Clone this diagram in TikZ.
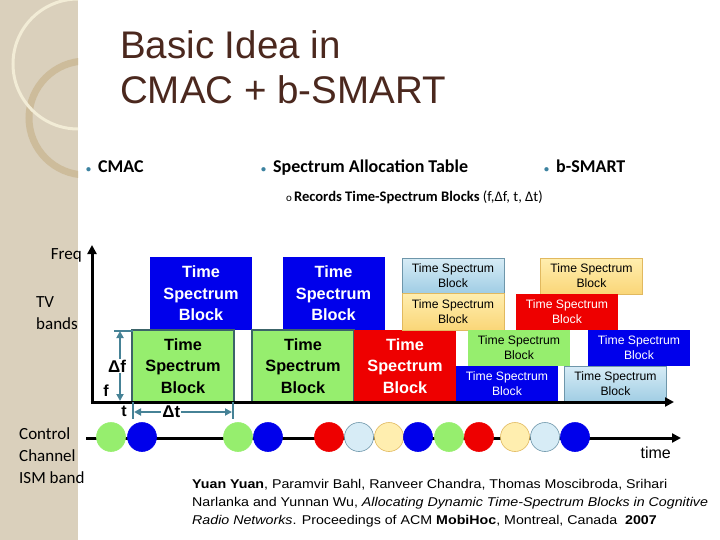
\documentclass[tikz,border=0pt]{standalone}
\usepackage{fontspec}
\setmainfont{Liberation Sans}
\newfontfamily\calfont{Carlito}
\newfontfamily\citefont[FakeStretch=1.12]{Liberation Sans}
\usetikzlibrary{arrows.meta}
\definecolor{tsblue}{RGB}{0,0,235}
\definecolor{tsred}{RGB}{238,0,0}
\definecolor{tsgreen}{RGB}{150,238,110}
\definecolor{lbtop}{RGB}{215,236,246}
\definecolor{lbbot}{RGB}{160,205,228}
\definecolor{lbedge}{RGB}{110,150,170}
\definecolor{yltop}{RGB}{255,238,175}
\definecolor{ylbot}{RGB}{250,214,120}
\definecolor{yledge}{RGB}{225,185,95}
\definecolor{grnedge}{RGB}{60,100,105}
\definecolor{titlebrown}{RGB}{75,40,30}
\definecolor{dimteal}{RGB}{70,130,150}
\definecolor{bulletc}{RGB}{60,130,160}
\definecolor{beige}{RGB}{218,208,188}
\definecolor{cream}{RGB}{242,236,214}
\definecolor{tanring}{RGB}{205,188,155}
\begin{document}
\begin{tikzpicture}[x=1pt, y=-1pt,
  bigblk/.style={minimum width=102pt, minimum height=72pt, inner sep=0pt, align=center,
    font=\fontsize{16.3}{21.5}\selectfont\bfseries},
  smallblk/.style={minimum width=102pt, minimum height=36pt, inner sep=0pt, align=center,
    font=\fontsize{12.2}{15}\selectfont},
  lbfill/.style={top color=lbtop, bottom color=lbbot, draw=lbedge, line width=0.8pt},
  ylfill/.style={top color=yltop, bottom color=ylbot, draw=yledge, line width=0.8pt},
  axis/.style={line width=3pt, -{Triangle[length=9pt,width=9pt]}},
  dim/.style={dimteal, line width=2.6pt},
  dimlab/.style={fill=white, inner sep=1pt, text=black, font=\bfseries\fontsize{17}{17}\selectfont},
  dot/.style={circle, minimum size=29pt, inner sep=0pt},
  label/.style={font=\calfont\fontsize{17}{22}\selectfont, align=left}]
  \useasboundingbox (0,0) rectangle (720,540);
  % Side band
  \fill[beige] (0,0) rectangle (78,540);
  \begin{scope}
    \clip (0,0) rectangle (78,540);
    \draw[tanring, line width=7pt] (86,118) circle (57);
    \draw[cream, line width=3pt] (78,64) circle (65);
  \end{scope}

  % Title and bullets
  \node[anchor=base west, inner sep=0pt, text=titlebrown, font=\fontsize{38.5}{45}\selectfont]
    (title1) at (120,59) {Basic Idea in};
  \node[anchor=base west, inner sep=0pt, text=titlebrown, font=\fontsize{38.5}{45}\selectfont]
    (title2) at (120,104) {CMAC + b-SMART};
  \foreach \bx/\btext/\bname in {86/CMAC/bcmac, 261/Spectrum Allocation Table/bsat, 544/b-SMART/bsmart}
    \node[anchor=base west, inner sep=0pt, font=\calfont\bfseries\fontsize{18}{20}\selectfont]
      (\bname) at (\bx,173) {{\color{bulletc}\fontsize{10}{10}\selectfont\textbullet}\hspace{7pt}\btext};
  \node[anchor=base west, inner sep=0pt, font=\calfont\fontsize{14.6}{16}\selectfont]
    (records) at (286,202) {{\fontsize{11}{11}\selectfont o}\hspace{2pt}\textbf{Records Time-Spectrum Blocks} (f,Δf, t, Δt)};

  % Big blocks
  \node[bigblk, fill=tsblue, text=white, minimum height=73pt] (b1) at (201,293.5) {Time\\Spectrum\\Block};
  \node[bigblk, fill=tsblue, text=white, minimum height=73pt] (b2) at (333.5,293.5) {Time\\Spectrum\\Block};
  \node[bigblk, fill=tsgreen, draw=grnedge, line width=1.2pt] (g1) at (183,366) {Time\\Spectrum\\Block};
  \node[bigblk, fill=tsgreen, draw=grnedge, line width=1.2pt] (g2) at (303,366) {Time\\Spectrum\\Block};
  \node[bigblk, fill=tsred, text=white] (r1) at (405,366) {Time\\Spectrum\\Block};

  % Small blocks
  \node[smallblk, lbfill, minimum height=35pt] (s1) at (453,275.5) {Time Spectrum\\Block};
  \node[smallblk, ylfill, minimum height=37pt] (s2) at (453,311.5) {Time Spectrum\\Block};
  \node[smallblk, ylfill] (s3) at (591.5,276) {Time Spectrum\\Block};
  \node[smallblk, fill=tsred, text=white] (s4) at (567,312) {Time Spectrum\\Block};
  \node[smallblk, fill=tsgreen] (s5) at (519,348) {Time Spectrum\\Block};
  \node[smallblk, fill=tsblue, text=white] (s6) at (639,348) {Time Spectrum\\Block};
  \node[smallblk, fill=tsblue, text=white] (s7) at (507,384) {Time Spectrum\\Block};
  \node[smallblk, lbfill] (s8) at (615.5,384) {Time Spectrum\\Block};

  % Axes
  \coordinate (O) at (92,402);
  \coordinate (freqtip) at (92,245);
  \coordinate (timetip) at (674,402);
  \draw[axis] ([yshift=-1.5pt]O) -- (freqtip);
  \draw[axis] ([xshift=-1.5pt]O) -- (timetip);
  \node[label, anchor=base east, inner sep=0pt] (freq) at (82,259) {Freq};
  \node[label, anchor=west, inner sep=0pt] (tv) at (36,313) {TV\\bands};

  % f, delta f
  \coordinate (dftop) at (120,331);
  \coordinate (dfbot) at (120,401);
  \draw[dim] (114,331) -- (133,331);
  \draw[dim, {Triangle[length=7pt,width=7pt]}-{Triangle[length=7pt,width=7pt]}] (dftop)
    -- node[dimlab, xshift=-3pt] (df) {Δf} (dfbot);
  \node[anchor=base, inner sep=0pt, font=\bfseries\fontsize{16}{16}\selectfont] (flab) at (106,396) {f};

  % t, delta t
  \coordinate (dtl) at (134,412);
  \coordinate (dtr) at (232,412);
  \draw[dim] (133,402) -- (133,419);
  \draw[dim] (233,402) -- (233,419);
  \draw[dim, {Triangle[length=7pt,width=7pt]}-{Triangle[length=7pt,width=7pt]}] (dtl)
    -- node[dimlab, pos=0.38] (dt) {Δt} (dtr);
  \node[anchor=base, inner sep=0pt, font=\bfseries\fontsize{16}{16}\selectfont] (tlab) at (124,416) {t};

  % Control channel
  \coordinate (cstart) at (86,438);
  \coordinate (ctip) at (681,438);
  \draw[axis] (cstart) -- (ctip);
  \foreach \cx/\cfill/\cdraw [count=\i] in {111/tsgreen/tsgreen, 142/tsblue/tsblue, 238/tsgreen/tsgreen,
      268/tsblue/tsblue, 329/tsred/tsred, 359/lbtop/lbedge, 389/yltop/yledge, 418/tsblue/tsblue,
      449/tsgreen/tsgreen, 479/tsred/tsred, 515/yltop/yledge, 545/lbtop/lbedge, 575/tsblue/tsblue}
    \node[dot, fill=\cfill, draw=\cdraw, line width=0.6pt] (ch\i) at (\cx,437) {};
  \node[anchor=base east, inner sep=0pt, font=\fontsize{16}{16}\selectfont] (time) at (671,458) {time};
  \node[label, anchor=west, inner sep=0pt] (ctrl) at (19,456) {Control\\Channel\\ISM band};

  % Reference
  \node[anchor=north west, inner sep=0pt, align=left, font=\citefont\fontsize{12.7}{18}\selectfont] (cite) at (192,479)
    {\textbf{Yuan Yuan}, Paramvir Bahl, Ranveer Chandra, Thomas Moscibroda, Srihari\\
     Narlanka and Yunnan Wu, \textit{Allocating Dynamic Time-Spectrum Blocks in Cognitive}\\
     \textit{Radio Networks}. Proceedings of ACM \textbf{MobiHoc}, Montreal, Canada\ \ \textbf{2007}};
\end{tikzpicture}
\end{document}
